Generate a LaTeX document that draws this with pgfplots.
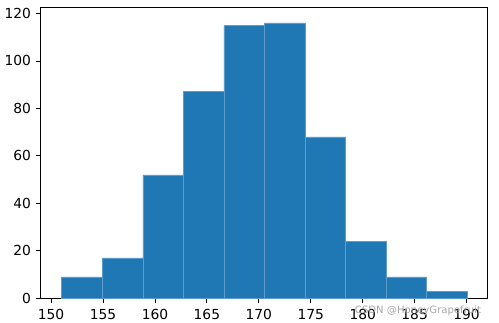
\documentclass[border=0pt]{standalone}
\usepackage{pgfplots}
\pgfplotsset{compat=1.18}
\usepackage{fontspec}
\setmainfont{DejaVu Sans}
\definecolor{mplblue}{RGB}{31,119,180}
\definecolor{edgeblue}{RGB}{95,155,205}
\begin{document}
\begin{tikzpicture}
\useasboundingbox (-29.3bp,-17.06bp) rectangle (329.98bp,214.78bp);
\begin{axis}[
  at={(0,0)}, anchor=south west,
  scale only axis,
  width=321.6bp, height=209.2bp,
  xmin=149.0, xmax=192.0,
  ymin=0, ymax=122.4,
  xtick={150,155,...,190},
  ytick={0,20,...,120},
  tick align=outside,
  tick pos=left,
  major tick length=3.5bp,
  tick style={black, line width=0.6pt},
  axis line style={black, line width=0.6pt},
  every tick label/.append style={font=\fontsize{10}{12}\selectfont},
  /pgf/number format/assume math mode=true,
  /pgf/number format/1000 sep={},
  xticklabel style={yshift=-1bp},
  clip=false,
]
\addplot[ybar interval, fill=mplblue, draw=edgeblue, line width=0.5pt] coordinates {
(151.03,9) (154.93,17) (158.84,52) (162.74,87) (166.64,115) (170.55,116)
(174.45,68) (178.35,24) (182.25,9) (186.16,3) (190.06,3)
};
\node[text=gray!70, font=\fontsize{7.3}{8}\selectfont, anchor=base east] at (rel axis cs:0.997,-0.052) {CSDN @HoneyGrapefruit};
\end{axis}
\end{tikzpicture}
\end{document}
